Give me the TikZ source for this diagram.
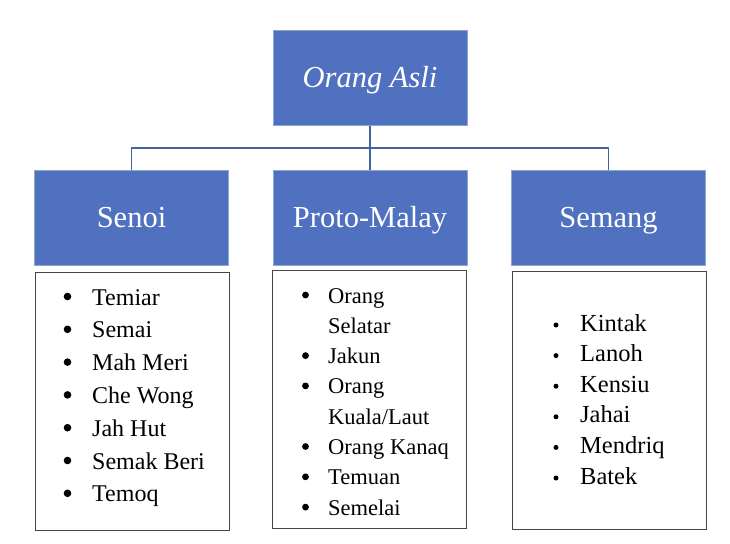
\documentclass[tikz,border=0pt]{standalone}
\usepackage{fontspec}
\setmainfont{LiberationSerif}[Extension=.ttf,UprightFont=*-Regular,ItalicFont=*-Italic,BoldFont=*-Bold,BoldItalicFont=*-BoldItalic]
\definecolor{boxblue}{RGB}{80,113,191}
\definecolor{boxedge}{RGB}{140,165,215}
\definecolor{linkblue}{RGB}{68,98,160}
\definecolor{listedge}{RGB}{70,70,70}
\begin{document}
\begin{tikzpicture}[x=1pt,y={(0pt,-1pt)},
  head/.style={draw=boxedge,line width=0.8pt,fill=boxblue,text=white,minimum width=194pt,minimum height=95pt,inner sep=0pt,text height=21pt,text depth=2pt,font=\fontsize{30.5}{34}\selectfont},
  listbox/.style={draw=listedge,line width=0.9pt,fill=white,minimum width=194pt,minimum height=258pt,inner sep=0pt},
  link/.style={draw=linkblue,line width=1.6pt},
  itemA/.style={anchor=base west,inner sep=0pt,font=\fontsize{24}{28}\selectfont},
  itemB/.style={anchor=base west,inner sep=0pt,font=\fontsize{22.5}{26}\selectfont},
  itemC/.style={anchor=base west,inner sep=0pt,font=\fontsize{24.5}{28}\selectfont}]
\useasboundingbox (0,0) rectangle (730,543);
\fill[white] (0,0) rectangle (730,543);
% header boxes
\node[head,font=\fontsize{30.5}{34}\itshape\selectfont] (top) at (370,78) {Orang Asli};
\node[head] (senoi) at (131.5,217.5) {Senoi};
\node[head] (proto) at (370,217.5) {Proto-Malay};
\node[head] (semang) at (608.5,217.5) {Semang};
% connectors
\coordinate (bus) at (370,148);
\draw[link] (top.south) -- (bus);
\draw[link] (bus) -| (senoi.north);
\draw[link] (bus) -| (semang.north);
\draw[link] (bus) -- (proto.north);
% list boxes
\node[listbox] (lsenoi) at (132,401.5) {};
\node[listbox] (lproto) at (369.5,399.5) {};
\node[listbox] (lsemang) at (609,400) {};
% Senoi items
\foreach \t [count=\i from 0] in {Temiar,Semai,Mah Meri,Che Wong,Jah Hut,Semak Beri,Temoq}{
  \fill (67.5,{305+32.8*\i-8.5}) circle (3.8pt);
  \node[itemA] (sn\i) at (92,{305+32.8*\i}) {\t};
}
% Proto-Malay items
\foreach \t [count=\i from 0] in {Orang,Selatar,Jakun,Orang,Kuala/Laut,Orang Kanaq,Temuan,Semelai}{
  \node[itemB] (pm\i) at (328,{303+30.3*\i}) {\t};
}
\foreach \i in {0,2,3,5,6,7}{
  \fill (305.5,{303+30.3*\i-8}) circle (3.4pt);
}
% Semang items
\foreach \t [count=\i from 0] in {Kintak,Lanoh,Kensiu,Jahai,Mendriq,Batek}{
  \fill (556,{331+30.6*\i-6}) circle (2.5pt);
  \node[itemC] (sm\i) at (580,{331+30.6*\i}) {\t};
}
\end{tikzpicture}
\end{document}
